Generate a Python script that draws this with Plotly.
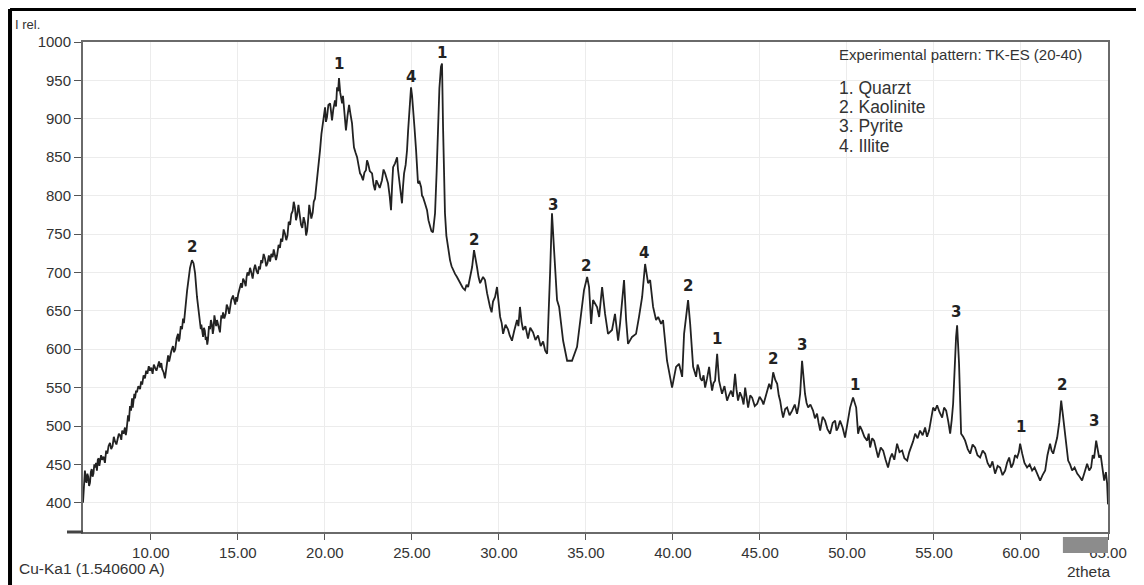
import plotly.graph_objects as go

# ---- data, split into consecutive 2-theta ranges ----
x_seg_a1 = [
    6.10, 6.13, 6.16, 6.21, 6.26, 6.30, 6.35, 6.40, 6.45, 6.50,
    6.55, 6.60, 6.65, 6.70, 6.75, 6.79, 6.85, 6.90, 6.95, 7.00,
    7.04, 7.08, 7.14, 7.20, 7.28, 7.36, 7.43, 7.50, 7.57, 7.65,
    7.72, 7.80, 7.87, 7.94, 8.02, 8.10, 8.16, 8.23, 8.30, 8.35,
    8.43, 8.51, 8.56, 8.60, 8.65, 8.69, 8.74, 8.80, 8.86, 8.92,
    8.96, 9.00, 9.05, 9.09, 9.15, 9.20, 9.28, 9.38, 9.44, 9.50,
    9.58, 9.66, 9.73, 9.80, 9.88, 9.95, 10.02, 10.10, 10.17, 10.24,
    10.32, 10.40, 10.47, 10.53, 10.60, 10.65, 10.73, 10.81, 10.86, 10.90,
    10.95, 10.99, 11.05, 11.10, 11.18, 11.27, 11.33, 11.40, 11.48, 11.56,
    11.60, 11.65, 11.72, 11.79, 11.85, 11.90, 11.96]
y_seg_a1 = [
    400, 418, 436, 442, 430, 426, 438, 434, 422, 426,
    440, 444, 434, 438, 450, 446, 452, 442, 456, 458,
    448, 452, 462, 456, 460, 452, 468, 464, 474, 478,
    470, 474, 486, 480, 476, 484, 490, 488, 482, 494,
    490, 498, 488, 494, 506, 514, 506, 526, 520, 536,
    524, 530, 542, 536, 546, 544, 552, 548, 558, 554,
    566, 562, 572, 568, 578, 572, 576, 568, 580, 576,
    572, 578, 584, 576, 582, 574, 570, 562, 572, 580,
    586, 592, 584, 590, 598, 604, 596, 600, 614, 620,
    610, 614, 630, 626, 640, 634, 652]

x_seg_a2 = [
    12.08, 12.25, 12.36, 12.45, 12.54, 12.65, 12.75, 12.82, 12.87, 12.90,
    12.95, 13.00, 13.05, 13.10, 13.15, 13.20, 13.24, 13.28, 13.34, 13.40,
    13.45, 13.51, 13.56, 13.60, 13.65, 13.69, 13.75, 13.80, 13.88, 13.97,
    14.01, 14.05, 14.10, 14.15, 14.22, 14.30, 14.36, 14.43, 14.50, 14.55,
    14.62, 14.72, 14.78, 14.85, 14.90, 14.95, 15.02, 15.10, 15.18, 15.24,
    15.30, 15.38, 15.45, 15.50, 15.55, 15.62, 15.70, 15.77, 15.85, 15.92,
    15.99, 16.07, 16.15, 16.21, 16.27, 16.34, 16.40, 16.48, 16.56, 16.63,
    16.70, 16.78, 16.85, 16.92, 17.00, 17.06, 17.13, 17.19, 17.25, 17.34,
    17.42, 17.48, 17.55, 17.63, 17.71, 17.78, 17.85, 17.92, 18.00, 18.07,
    18.15, 18.21, 18.28, 18.34, 18.40, 18.48, 18.57, 18.63, 18.70, 18.78,
    18.86, 18.92, 18.98, 19.02, 19.05, 19.10, 19.15, 19.22, 19.30, 19.36,
    19.43]
y_seg_a2 = [
    676, 706, 716, 712, 699, 668, 650, 638, 626, 632,
    620, 616, 628, 624, 612, 616, 606, 612, 630, 626,
    638, 632, 620, 626, 644, 640, 630, 638, 628, 622,
    634, 644, 640, 648, 640, 646, 658, 654, 646, 652,
    664, 670, 662, 658, 668, 662, 672, 678, 686, 680,
    692, 688, 682, 694, 700, 696, 706, 700, 692, 704,
    710, 702, 698, 708, 704, 716, 712, 724, 718, 708,
    712, 722, 714, 724, 720, 730, 724, 716, 722, 736,
    732, 744, 740, 756, 750, 742, 748, 766, 762, 776,
    780, 792, 784, 768, 774, 788, 772, 762, 758, 772,
    764, 748, 754, 762, 772, 788, 780, 770, 778, 792,
    796]

x_seg_b = [
    19.55, 19.63, 19.72, 19.80, 19.89, 19.95, 20.01, 20.06, 20.12, 20.20,
    20.30, 20.36, 20.41, 20.48, 20.58, 20.64, 20.70, 20.76, 20.81, 20.88,
    20.94, 20.99, 21.04, 21.10, 21.15, 21.21, 21.30, 21.39, 21.47, 21.56,
    21.62, 21.67, 21.76, 21.85, 21.93, 22.02, 22.10, 22.19, 22.27, 22.36,
    22.42, 22.48, 22.58, 22.71, 22.80, 22.88, 22.96, 23.05, 23.15, 23.28,
    23.37, 23.46, 23.55, 23.63, 23.72, 23.80, 23.86, 23.92, 24.03, 24.15,
    24.20, 24.26, 24.35, 24.43, 24.49, 24.55, 24.64, 24.72, 24.78, 24.84,
    24.90, 24.95, 25.01, 25.07, 25.15, 25.24, 25.30, 25.35, 25.44, 25.53,
    25.58, 25.64, 25.75, 25.87, 25.95, 26.04, 26.12, 26.21, 26.27, 26.33,
    26.42, 26.50, 26.58, 26.67, 26.73, 26.79, 26.84, 26.90, 26.98, 27.08,
    27.19, 27.28, 27.36, 27.48, 27.59, 27.68, 27.77, 27.92, 28.05, 28.14,
    28.23, 28.35, 28.46, 28.57, 28.65, 28.74, 28.83, 28.92, 29.00, 29.09,
    29.20, 29.26, 29.32]
y_seg_b = [
    820, 838, 859, 880, 894, 908, 915, 896, 902, 918,
    920, 908, 898, 912, 924, 916, 941, 936, 953, 934,
    926, 920, 930, 911, 896, 885, 904, 918, 906, 894,
    876, 863, 856, 850, 840, 829, 826, 820, 830, 833,
    846, 842, 832, 829, 814, 807, 820, 816, 810, 820,
    834, 829, 822, 816, 800, 781, 812, 837, 842, 850,
    834, 820, 806, 790, 812, 829, 840, 859, 884, 907,
    928, 941, 930, 915, 888, 859, 836, 816, 818, 811,
    800, 798, 790, 781, 768, 759, 754, 752, 762, 777,
    830, 885, 940, 968, 972, 889, 820, 777, 748, 729,
    716, 708, 703, 698, 694, 690, 686, 680, 677, 684,
    681, 694, 707, 729, 716, 707, 694, 686, 690, 694,
    690, 680, 673]

x_seg_c = [
    29.49, 29.58, 29.66, 29.78, 29.89, 29.98, 30.07, 30.16, 30.24, 30.38,
    30.52, 30.62, 30.75, 30.88, 31.04, 31.12, 31.21, 31.30, 31.39, 31.52,
    31.67, 31.80, 31.96, 32.10, 32.25, 32.40, 32.54, 32.66, 32.77]
y_seg_c = [
    655, 648, 662, 668, 681, 660, 642, 634, 620, 632,
    626, 618, 611, 624, 638, 630, 655, 636, 625, 630,
    614, 628, 622, 612, 618, 604, 610, 598, 594]

x_seg_d = [
    32.94, 33.05, 33.17, 33.34, 33.46, 33.69, 33.92, 34.20, 34.49, 34.78,
    34.89, 35.07, 35.18, 35.30, 35.41, 35.64, 35.76, 35.93, 36.10, 36.27,
    36.50, 36.67, 36.85, 36.96, 37.08, 37.19, 37.31, 37.42, 37.65, 37.88,
    38.05, 38.23, 38.40, 38.57, 38.69, 38.86, 39.03, 39.15, 39.32, 39.43,
    39.66, 39.84, 39.95, 40.18, 40.35, 40.53, 40.64, 40.87, 40.99]
y_seg_d = [
    699, 777, 729, 664, 655, 611, 585, 585, 603, 655,
    677, 694, 681, 633, 664, 655, 642, 681, 646, 620,
    625, 646, 611, 633, 659, 690, 638, 607, 616, 620,
    642, 668, 711, 686, 690, 655, 638, 642, 633, 638,
    585, 564, 550, 577, 581, 564, 620, 664, 633]

x_seg_e = [
    41.16, 41.25, 41.33, 41.42, 41.50, 41.58, 41.67, 41.76, 41.85, 41.96,
    42.08, 42.16, 42.25, 42.33, 42.42, 42.54, 42.65, 42.74, 42.82, 42.96,
    43.11, 43.22, 43.34, 43.45, 43.57, 43.65, 43.74, 43.85, 43.97, 44.06,
    44.15, 44.24, 44.32, 44.44, 44.55, 44.70, 44.84, 44.98, 45.12, 45.20,
    45.30, 45.42, 45.53, 45.64, 45.76, 45.88, 45.99, 46.08, 46.16, 46.25,
    46.33, 46.45, 46.56, 46.70, 46.85, 47.00, 47.13, 47.22, 47.31, 47.42,
    47.50, 47.59, 47.68, 47.77, 47.90, 48.05, 48.16, 48.28, 48.37, 48.46,
    48.60, 48.74, 48.88, 49.03, 49.18, 49.32, 49.40, 49.49]
y_seg_e = [
    577, 568, 564, 580, 574, 562, 559, 566, 550, 562,
    577, 560, 546, 556, 559, 594, 559, 550, 542, 552,
    533, 540, 546, 538, 568, 548, 533, 544, 537, 528,
    550, 536, 524, 540, 537, 526, 529, 538, 533, 528,
    537, 546, 555, 548, 570, 560, 555, 540, 533, 520,
    511, 522, 524, 514, 520, 528, 516, 526, 542, 585,
    560, 542, 530, 524, 528, 520, 510, 516, 504, 494,
    512, 507, 496, 490, 504, 507, 494, 498]

x_seg_f = [
    49.60, 49.75, 49.89, 50.04, 50.18, 50.35, 50.45, 50.53, 50.64, 50.75,
    50.87, 51.00, 51.16, 51.25, 51.33, 51.45, 51.56, 51.68, 51.79, 51.94,
    52.08, 52.22, 52.36, 52.48, 52.59, 52.72, 52.88, 53.02, 53.17, 53.30,
    53.46, 53.58, 53.69, 53.80, 53.92, 54.06, 54.20, 54.35, 54.49, 54.60,
    54.72, 54.84, 54.95, 55.06, 55.18, 55.32, 55.47, 55.58, 55.70, 55.82,
    55.93, 56.02, 56.10, 56.27, 56.33, 56.44]
y_seg_f = [
    507, 498, 485, 505, 524, 537, 528, 524, 490, 500,
    494, 486, 481, 490, 472, 484, 481, 470, 459, 472,
    468, 456, 446, 458, 464, 456, 477, 466, 468, 458,
    455, 466, 472, 480, 490, 484, 494, 488, 498, 486,
    494, 510, 524, 520, 527, 518, 511, 524, 520, 506,
    490, 508, 529, 616, 631, 581]

x_seg_g = [
    56.56, 56.68, 56.79, 56.94, 57.08, 57.22, 57.36, 57.50, 57.65, 57.80,
    57.94, 58.08, 58.23, 58.36, 58.51, 58.66, 58.80, 58.94, 59.09, 59.20,
    59.32, 59.44, 59.55, 59.66, 59.78, 59.88, 59.95, 60.07, 60.20, 60.35,
    60.50, 60.64, 60.78, 60.93, 61.02, 61.10, 61.24, 61.39, 61.52, 61.67,
    61.76, 61.85, 61.96, 62.08, 62.20, 62.31, 62.40, 62.48, 62.60, 62.71,
    62.82, 62.94, 63.08, 63.23, 63.37, 63.51, 63.66, 63.80, 63.92, 64.03,
    64.12, 64.20, 64.32, 64.40, 64.49, 64.58, 64.66, 64.78, 64.88, 64.95,
    65.00]
y_seg_g = [
    490, 486, 481, 470, 464, 476, 472, 462, 459, 468,
    464, 452, 446, 454, 438, 448, 446, 436, 442, 452,
    459, 446, 451, 462, 459, 466, 477, 464, 452, 446,
    450, 442, 446, 438, 434, 429, 436, 442, 462, 477,
    468, 464, 474, 485, 505, 533, 516, 498, 480, 455,
    450, 442, 446, 438, 434, 429, 440, 451, 442, 446,
    462, 458, 481, 470, 459, 462, 446, 429, 440, 425,
    398]

peak_labels = ["2", "1", "4", "1", "2", "3", "2", "4", "2", "1", "2", "3", "1", "3", "1", "2", "3"]
peak_x = [12.38, 20.81, 24.93, 26.72, 28.55, 33.08, 35.02, 38.34, 40.87, 42.54, 45.74, 47.42,
          50.48, 56.24, 60.00, 62.36, 64.20]
peak_y = [733, 972, 955, 986, 742, 788, 708, 725, 682, 613, 587, 605, 554, 649, 499, 554, 507]

x_ticks = [10, 15, 20, 25, 30, 35, 40, 45, 50, 55, 60, 65]
x_tick_labels = ["10.00", "15.00", "20.00", "25.00", "30.00", "35.00", "40.00", "45.00",
                 "50.00", "55.00", "60.00", "65.00"]
y_ticks = [400, 450, 500, 550, 600, 650, 700, 750, 800, 850, 900, 950, 1000]
y_tick_labels = ["400", "450", "500", "550", "600", "650", "700", "750", "800", "850",
                 "900", "950", "1000"]

legend_title = "Experimental pattern: TK-ES (20-40)"
legend_items = ["1. Quarzt", "2. Kaolinite", "3. Pyrite", "4. Illite"]

# ---- assemble ----
segments_x = [x_seg_a1, x_seg_a2, x_seg_b, x_seg_c, x_seg_d, x_seg_e, x_seg_f, x_seg_g]
segments_y = [y_seg_a1, y_seg_a2, y_seg_b, y_seg_c, y_seg_d, y_seg_e, y_seg_f, y_seg_g]
two_theta, intensity = [], []
for sx, sy in zip(segments_x, segments_y):
    n = min(len(sx), len(sy))
    two_theta += sx[:n]
    intensity += sy[:n]

FONT = "Liberation Sans, Arial, sans-serif"
fig = go.Figure()
fig.add_trace(go.Scatter(x=two_theta, y=intensity, mode="lines",
                         line=dict(color="#222222", width=1.8), hoverinfo="skip"))

for t, px_, py_ in zip(peak_labels, peak_x, peak_y):
    fig.add_annotation(x=px_, y=py_, text="<b>%s</b>" % t, showarrow=False,
                       xanchor="center", yanchor="middle",
                       font=dict(family="DejaVu Sans, sans-serif", size=15, color="#222"))

fig.add_annotation(xref="paper", yref="paper", x=0.7356, y=0.9735, text=legend_title,
                   showarrow=False, xanchor="left", yanchor="middle",
                   font=dict(family=FONT, size=15, color="#333"))
legend_y = [0.9061, 0.8673, 0.8286, 0.7878]
for item, ly in zip(legend_items, legend_y):
    fig.add_annotation(xref="paper", yref="paper", x=0.7356, y=ly,
                       text=item, showarrow=False, xanchor="left", yanchor="middle",
                       font=dict(family=FONT, size=17.5, color="#333"))

fig.add_annotation(xref="paper", yref="paper", x=-0.0683, y=1.0347, text="I rel.",
                   showarrow=False, xanchor="left", yanchor="middle",
                   font=dict(family=FONT, size=13, color="#333"))
fig.add_annotation(xref="paper", yref="paper", x=-0.0644, y=-0.0755, text="Cu-Ka1 (1.540600 A)",
                   showarrow=False, xanchor="left", yanchor="middle",
                   font=dict(family=FONT, size=15.5, color="#333"))
fig.add_annotation(xref="paper", yref="paper", x=0.958, y=-0.0796, text="2theta",
                   showarrow=False, xanchor="left", yanchor="middle",
                   font=dict(family=FONT, size=15.5, color="#333"))

# gray block over the last x label, axis stub, outer frame
fig.add_shape(type="rect", xref="paper", yref="paper", x0=0.956, x1=1.0, y0=-0.0429, y1=-0.0102,
              fillcolor="#8c8c8c", line=dict(width=0), layer="above")
fig.add_shape(type="line", xref="paper", yref="paper", x0=-0.0156, x1=0, y0=0, y1=0,
              line=dict(color="#444", width=3), layer="above")
fig.add_shape(type="line", xref="paper", yref="paper", x0=-0.0712, x1=1.05, y0=1.0673, y1=1.0673,
              line=dict(color="#000", width=4), layer="above")
fig.add_shape(type="line", xref="paper", yref="paper", x0=-0.0712, x1=-0.0712, y0=-0.12, y1=1.0673,
              line=dict(color="#000", width=4), layer="above")

fig.update_xaxes(range=[6.1, 65.0], tickmode="array", tickvals=x_ticks, ticktext=x_tick_labels,
                 ticks="outside", ticklen=6, tickcolor="#555", showgrid=True, gridcolor="#ececec",
                 showline=True, linecolor="#6a6a6a", linewidth=2, mirror=True, zeroline=False,
                 tickfont=dict(family=FONT, size=15, color="#333"))
fig.update_yaxes(range=[362, 1000], tickmode="array", tickvals=y_ticks, ticktext=y_tick_labels,
                 ticks="outside", ticklen=7, tickcolor="#555", showgrid=True, gridcolor="#ececec",
                 showline=True, linecolor="#6a6a6a", linewidth=2, mirror=True, zeroline=False,
                 tickfont=dict(family=FONT, size=15, color="#333"))

# the page body has an 8px margin, so the figure is sized/offset to land on the reference grid
fig.update_layout(width=1136, height=577, margin=dict(l=75, r=36, t=34, b=53),
                  paper_bgcolor="white", plot_bgcolor="white", showlegend=False)

fig.write_html("out.html")
